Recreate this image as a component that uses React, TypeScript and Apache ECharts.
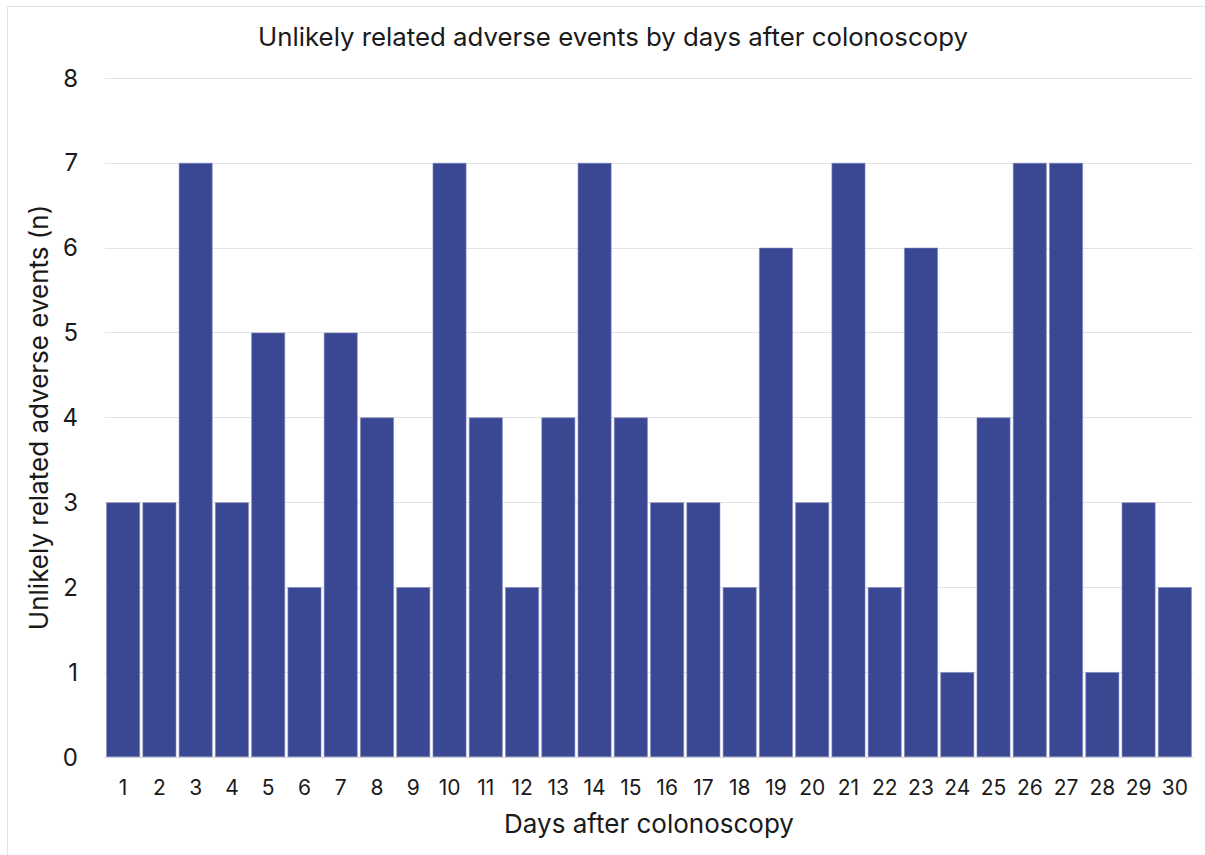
import React, { useEffect, useRef } from "react";
import * as echarts from "echarts";

const days = Array.from({ length: 30 }, (_, i) => String(i + 1));
const events = [3, 3, 7, 3, 5, 2, 5, 4, 2, 7, 4, 2, 4, 7, 4, 3, 3, 2, 6, 3, 7, 2, 6, 1, 4, 7, 7, 1, 3, 2];

const FONT = "Inter, 'Open Sans', sans-serif";

export default function App() {
  const ref = useRef<HTMLDivElement>(null);
  useEffect(() => {
    const chart = echarts.init(ref.current!, null, { renderer: "svg" });
    chart.setOption({
      animation: false,
      backgroundColor: "#ffffff",
      title: {
        text: "Unlikely related adverse events by days after colonoscopy",
        left: 608,
        top: 18,
        textAlign: "center",
        textStyle: { fontFamily: FONT, fontSize: 25.8, fontWeight: "normal", color: "#1a1a1a" },
      },
      graphic: [
        {
          type: "rect",
          shape: { x: 7.5, y: 6.5, width: 1220, height: 870 },
          style: { fill: "none", stroke: "#e3e3e3", lineWidth: 1 },
          silent: true,
        },
      ],
      grid: { left: 105, right: 12, top: 78, bottom: 98 },
      xAxis: {
        type: "category",
        data: days,
        name: "Days after colonoscopy",
        nameLocation: "middle",
        nameGap: 53,
        nameTextStyle: { fontFamily: FONT, fontSize: 26, color: "#1a1a1a" },
        axisLine: { lineStyle: { color: "#d9d9d9" } },
        axisTick: { show: false },
        axisLabel: { fontFamily: FONT, fontSize: 21, color: "#1a1a1a", margin: 20, interval: 0 },
      },
      yAxis: {
        type: "value",
        min: 0,
        max: 8,
        interval: 1,
        name: "Unlikely related adverse events (n)",
        nameLocation: "middle",
        nameGap: 49,
        nameTextStyle: { fontFamily: FONT, fontSize: 26, color: "#1a1a1a" },
        axisLine: { show: false },
        axisTick: { show: false },
        splitLine: { lineStyle: { color: "#e3e3e3" } },
        axisLabel: { fontFamily: FONT, fontSize: 24, color: "#1a1a1a", margin: 27 },
      },
      series: [
        {
          type: "bar",
          data: events,
          barCategoryGap: "7%",
          itemStyle: { color: "#3a4894", borderColor: "#7d87bd", borderWidth: 0.6 },
        },
      ],
    });
    return () => chart.dispose();
  }, []);
  return <div ref={ref} style={{ position: "absolute", left: 0, top: 0, width: 1205, height: 855 }} />;
}
